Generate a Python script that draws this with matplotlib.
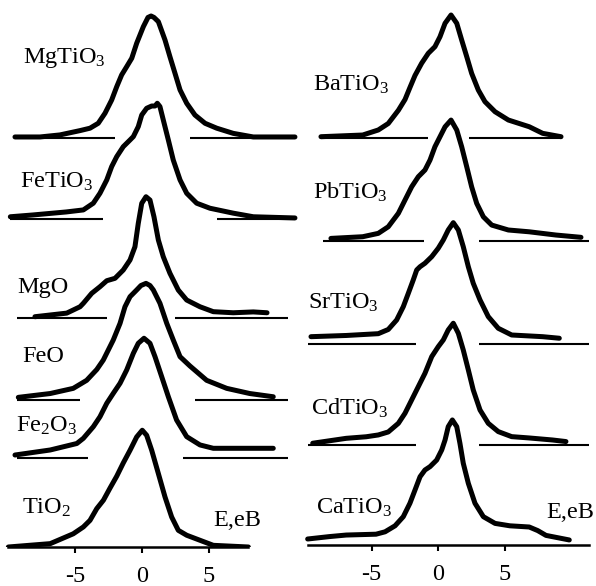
import matplotlib
matplotlib.use('Agg')
import matplotlib.pyplot as plt

plt.rcParams['font.family'] = ['Liberation Serif', 'DejaVu Serif']
plt.rcParams['mathtext.fontset'] = 'custom'
plt.rcParams['mathtext.rm'] = 'Liberation Serif'
plt.rcParams['mathtext.it'] = 'Liberation Serif:italic'

# ---------------- data (energy in eV, normalised intensity) ----------------
mgtio3_e = [-9.55, -7.67, -6.17, -4.66, -3.91, -3.29, -2.78, -2.28, -1.9, -1.53, -1.15, -0.77, -0.4, 0.1, 0.45, 0.68, 0.9, 1.23, 1.73, 2.1, 2.48, 2.86, 3.36, 3.98, 4.74, 5.62, 6.86, 8.37, 11.5]
mgtio3_i = [0.0, 0.0, 0.017, 0.053, 0.073, 0.114, 0.198, 0.308, 0.419, 0.517, 0.586, 0.656, 0.781, 0.919, 0.996, 1.008, 0.996, 0.961, 0.808, 0.669, 0.531, 0.392, 0.281, 0.183, 0.114, 0.073, 0.03, 0.0, 0.0]

fetio3_e = [-9.9, -8.2, -5.7, -4.41, -3.66, -3.16, -2.65, -2.28, -1.9, -1.41, -0.9, -0.65, -0.28, -0.02, 0.35, 0.73, 0.98, 1.15, 1.35, 1.6, 1.98, 2.35, 2.86, 3.36, 4.11, 5.11, 6.86, 8.37, 11.5]
fetio3_i = [0.01, 0.025, 0.05, 0.067, 0.123, 0.206, 0.317, 0.428, 0.511, 0.594, 0.65, 0.678, 0.761, 0.858, 0.914, 0.933, 0.933, 0.956, 0.928, 0.817, 0.65, 0.483, 0.317, 0.206, 0.123, 0.081, 0.04, 0.01, 0.0]

mgo_e = [-8.05, -5.66, -4.66, -4.41, -3.78, -3.16, -2.65, -2.03, -1.41, -0.9, -0.53, -0.28, -0.02, 0.3, 0.6, 0.9, 1.23, 1.6, 2.1, 2.73, 3.36, 4.36, 5.36, 6.86, 8.37, 9.4]
mgo_i = [0.0, 0.03, 0.083, 0.112, 0.195, 0.25, 0.3, 0.32, 0.389, 0.473, 0.583, 0.778, 0.945, 1.0, 0.972, 0.833, 0.639, 0.5, 0.362, 0.222, 0.139, 0.083, 0.042, 0.033, 0.04, 0.033]

feo_e = [-9.3, -6.9, -5.17, -4.16, -3.4, -2.91, -2.16, -1.65, -1.28, -0.9, -0.4, -0.08, 0.3, 0.6, 0.85, 1.35, 1.86, 2.35, 2.86, 3.6, 4.86, 6.37, 8.1, 9.87]
feo_i = [0.008, 0.04, 0.083, 0.15, 0.24, 0.319, 0.486, 0.625, 0.763, 0.847, 0.903, 0.94, 0.958, 0.94, 0.903, 0.792, 0.625, 0.486, 0.347, 0.27, 0.15, 0.083, 0.04, 0.013]

fe2o3_e = [-9.55, -6.9, -4.9, -4.41, -3.66, -3.16, -2.65, -2.16, -1.65, -1.15, -0.65, -0.28, 0.15, 0.6, 0.98, 1.48, 1.98, 2.6, 3.36, 4.36, 5.36, 6.86, 9.87]
fe2o3_i = [0.014, 0.056, 0.11, 0.153, 0.25, 0.333, 0.445, 0.528, 0.612, 0.723, 0.862, 0.945, 0.987, 0.945, 0.833, 0.667, 0.5, 0.306, 0.167, 0.098, 0.07, 0.07, 0.07]

tio2_e = [-10.05, -6.9, -5.17, -4.41, -3.91, -3.4, -2.9, -2.41, -1.9, -1.41, -0.9, -0.4, 0.02, 0.35, 0.73, 1.23, 1.73, 2.23, 2.73, 3.36, 4.36, 5.36, 8.0]
tio2_i = [0.0, 0.028, 0.11, 0.167, 0.222, 0.32, 0.39, 0.49, 0.59, 0.7, 0.806, 0.917, 0.973, 0.931, 0.806, 0.612, 0.417, 0.25, 0.139, 0.098, 0.056, 0.014, 0.0]

batio3_e = [-8.8, -5.66, -4.49, -3.74, -2.98, -2.48, -2.11, -1.73, -1.23, -0.73, -0.23, 0.15, 0.53, 0.98, 1.41, 1.78, 2.16, 2.53, 3.03, 3.53, 4.29, 5.29, 6.86, 7.87, 9.25]
batio3_i = [0.0, 0.014, 0.056, 0.11, 0.22, 0.31, 0.41, 0.51, 0.612, 0.695, 0.75, 0.833, 0.945, 1.014, 0.945, 0.806, 0.667, 0.528, 0.389, 0.292, 0.208, 0.139, 0.083, 0.028, 0.0]

pbtio3_e = [-8.05, -5.66, -4.49, -3.74, -2.98, -2.48, -1.98, -1.48, -0.98, -0.6, -0.23, 0.15, 0.53, 0.98, 1.41, 1.78, 2.16, 2.53, 2.91, 3.41, 4.04, 5.29, 6.86, 8.87, 10.75]
pbtio3_i = [0.008, 0.022, 0.05, 0.105, 0.217, 0.328, 0.438, 0.522, 0.578, 0.661, 0.772, 0.855, 0.938, 0.994, 0.911, 0.772, 0.605, 0.438, 0.3, 0.188, 0.119, 0.078, 0.063, 0.036, 0.017]

srtio3_e = [-9.55, -6.9, -4.49, -3.74, -3.11, -2.61, -2.23, -1.86, -1.6, -1.35, -0.98, -0.47, 0.02, 0.4, 0.77, 1.15, 1.53, 1.9, 2.28, 2.65, 3.16, 3.78, 4.53, 5.54, 7.87, 9.12]
srtio3_i = [0.05, 0.06, 0.075, 0.11, 0.189, 0.3, 0.412, 0.523, 0.606, 0.633, 0.662, 0.717, 0.787, 0.856, 0.939, 1.0, 0.939, 0.8, 0.633, 0.495, 0.356, 0.217, 0.12, 0.064, 0.05, 0.037]

cdtio3_e = [-9.42, -6.9, -5.4, -4.49, -3.74, -2.98, -2.48, -1.98, -1.48, -0.98, -0.47, 0.02, 0.4, 0.77, 1.15, 1.53, 1.9, 2.28, 2.65, 3.16, 3.78, 4.53, 5.54, 6.86, 8.62, 9.62]
cdtio3_i = [0.006, 0.047, 0.06, 0.075, 0.1, 0.172, 0.256, 0.367, 0.478, 0.589, 0.728, 0.811, 0.867, 0.95, 1.006, 0.922, 0.783, 0.617, 0.45, 0.283, 0.172, 0.103, 0.061, 0.05, 0.033, 0.02]

catio3_e = [-9.8, -8.17, -6.9, -4.66, -3.98, -3.23, -2.61, -2.11, -1.73, -1.35, -0.98, -0.6, -0.1, 0.28, 0.53, 0.77, 1.08, 1.41, 1.65, 1.9, 2.28, 2.78, 3.41, 4.29, 5.4, 6.86, 7.5, 8.12, 9.87]
catio3_i = [0.05, 0.07, 0.083, 0.09, 0.11, 0.16, 0.236, 0.348, 0.458, 0.569, 0.625, 0.653, 0.708, 0.792, 0.875, 0.986, 1.042, 0.986, 0.847, 0.681, 0.514, 0.348, 0.236, 0.18, 0.16, 0.15, 0.12, 0.08, 0.042]

left_labels = [r'MgTiO$_\mathrm{3}$', r'FeTiO$_\mathrm{3}$', 'MgO', 'FeO',
               r'Fe$_\mathrm{2}$O$_\mathrm{3}$', r'TiO$_\mathrm{2}$']
right_labels = [r'BaTiO$_\mathrm{3}$', r'PbTiO$_\mathrm{3}$', r'SrTiO$_\mathrm{3}$',
                r'CdTiO$_\mathrm{3}$', r'CaTiO$_\mathrm{3}$']
left_curves = [(mgtio3_e, mgtio3_i), (fetio3_e, fetio3_i), (mgo_e, mgo_i),
               (feo_e, feo_i), (fe2o3_e, fe2o3_i), (tio2_e, tio2_i)]
right_curves = [(batio3_e, batio3_i), (pbtio3_e, pbtio3_i), (srtio3_e, srtio3_i),
                (cdtio3_e, cdtio3_i), (catio3_e, catio3_i)]

# zero-level segments (eV ranges) drawn under each spectrum
left_zero = [[(-9.55, -2.03), (3.6, 11.5)], [(-9.92, -2.93), (5.64, 11.5)],
             [(-9.4, -2.63), (2.48, 10.98)], [(-9.4, -4.66), (3.98, 10.98)],
             [(-9.4, -4.06), (3.08, 10.98)], []]
right_zero = [[(-8.8, -0.75), (2.33, 9.25)], [(-8.65, -1.05), (3.08, 11.35)],
              [(-9.77, -1.65), (3.08, 11.35)], [(-9.77, -1.65), (3.08, 11.35)], []]

tick_values = [-5, 0, 5]
tick_labels = ['-5', '0', '5']
axis_label = 'E,eB'

# ---------------- layout ----------------
W, H = 596, 586
left_offsets = [3.417, 2.742, 1.919, 1.239, 0.7525, 0.0]
right_offsets = [3.4025, 2.547, 1.686, 0.842, 0.0]
left_label_pos = [(23, 58), (20, 182), (17, 288), (22, 356), (16, 426), (22, 508)]
right_label_pos = [(313, 85), (313, 192), (308, 303), (311, 408), (316, 508)]

fig = plt.figure(figsize=(W / 100, H / 100), dpi=100)

def panel(rect, xlim, ylim, curves, offsets, zero, axis_bounds):
    ax = fig.add_axes(rect)
    ax.set_xlim(*xlim)
    ax.set_ylim(*ylim)
    for (e, i), off, segs in zip(curves, offsets, zero):
        for a, b in segs:
            ax.plot([a, b], [off - 0.012, off - 0.012], color='black', lw=1.5,
                    solid_capstyle='butt')
        ax.plot(e, [v + off for v in i], color='black', lw=3.6,
                solid_joinstyle='round', solid_capstyle='round')
    for s in ['top', 'right', 'left']:
        ax.spines[s].set_visible(False)
    ax.spines['bottom'].set_bounds(*axis_bounds)
    ax.spines['bottom'].set_linewidth(1.8)
    ax.set_yticks([])
    ax.set_xticks(tick_values)
    ax.set_xticklabels(tick_labels)
    ax.tick_params(axis='x', direction='out', length=4, width=1.5,
                   labelsize=17.5, pad=10)
    return ax

panel([0, 39 / H, 298 / W, 547 / H], (-142 / 13.3, 156 / 13.3), (0, 547 / 120),
      left_curves, left_offsets, left_zero, (-10.07, 7.97))
panel([298 / W, 41 / H, 298 / W, 545 / H], (-140 / 13.3, 158 / 13.3), (0, 545 / 120),
      right_curves, right_offsets, right_zero, (-9.77, 11.35))

for lab, (x, y) in zip(left_labels + right_labels, left_label_pos + right_label_pos):
    fig.text(x / W, 1 - y / H, lab, fontsize=17.5, ha='left', va='center')
fig.text(213 / W, 1 - 520 / H, axis_label, fontsize=17.5, ha='left', va='center')
fig.text(546 / W, 1 - 512 / H, axis_label, fontsize=17.5, ha='left', va='center')

fig.savefig('out.png', dpi=100, facecolor='white')
